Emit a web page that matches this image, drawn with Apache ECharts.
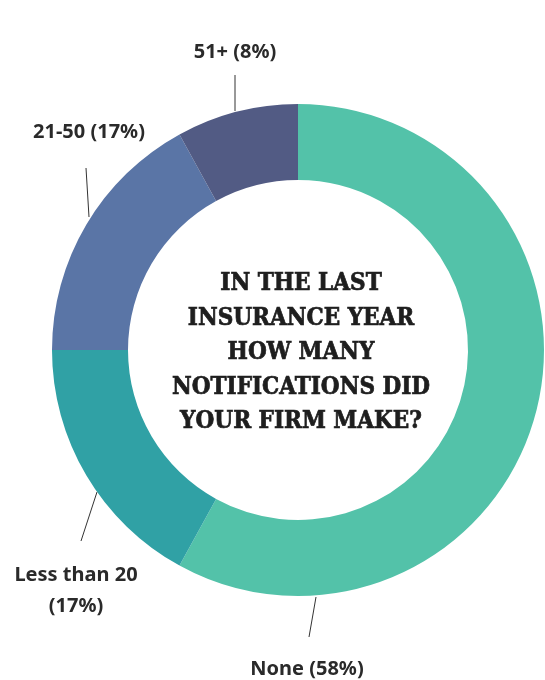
<!DOCTYPE html>
<html>
<head>
<meta charset="utf-8">
<style>
  html, body { margin: 0; padding: 0; background: #ffffff; }
  #chart { width: 545px; height: 680px; }
</style>
<script src="https://cdn.jsdelivr.net/npm/echarts@6/dist/echarts.min.js"></script>
</head>
<body>
<div id="chart"></div>
<script>
// Survey answers, clockwise from 12 o'clock
const categories = ['None', 'Less than 20', '21-50', '51+'];
const shares = [58, 17, 17, 8];
const labelTexts = ['None (58%)', 'Less than 20\n(17%)', '21-50 (17%)', '51+ (8%)'];
const question = 'IN THE LAST\nINSURANCE YEAR\nHOW MANY\nNOTIFICATIONS DID\nYOUR FIRM MAKE?';

const sliceColors = ['#53c2a9', '#30a1a5', '#5a75a6', '#525b84'];

// Where each callout sits: label centre, then the leader line from ring to label
const callouts = [
  { x: 307, y: 669, line: [[316, 597], [309, 637]] },
  { x: 76,  y: 591, line: [[97, 492], [81, 541]] },
  { x: 89,  y: 132, line: [[89, 217], [86, 168]] },
  { x: 235, y: 52,  line: [[235, 111], [235, 75]] }
];

const chart = echarts.init(document.getElementById('chart'), null, { renderer: 'canvas' });

chart.setOption({
  animation: false,
  backgroundColor: '#ffffff',
  title: {
    text: question,
    left: 296,
    top: 262,
    textAlign: 'center',
    textStyle: {
      fontFamily: 'DejaVu Serif Condensed',
      fontWeight: 'bold',
      fontSize: 24,
      lineHeight: 34.5,
      color: '#1e1e1e',
      textBorderColor: '#1e1e1e',
      textBorderWidth: 0.7
    }
  },
  series: [{
    type: 'pie',
    center: [298, 350],
    radius: [170, 246],
    startAngle: 90,
    clockwise: true,
    avoidLabelOverlap: false,
    silent: true,
    data: categories.map((name, i) => ({
      name: name,
      value: shares[i],
      itemStyle: { color: sliceColors[i] },
      label: { formatter: labelTexts[i] }
    })),
    label: {
      show: true,
      position: 'outside',
      fontFamily: 'Noto Sans',
      fontWeight: 700,
      fontSize: 20,
      lineHeight: 31,
      color: '#2a2a2a',
      align: 'center'
    },
    labelLine: {
      show: true,
      length: 20,
      length2: 0,
      lineStyle: { color: '#333333', width: 1 }
    },
    labelLayout: function (params) {
      const c = callouts[params.dataIndex];
      return {
        x: c.x,
        y: c.y,
        align: 'center',
        verticalAlign: 'middle',
        labelLinePoints: [c.line[0], c.line[1], c.line[1]]
      };
    }
  }]
});
</script>
</body>
</html>
